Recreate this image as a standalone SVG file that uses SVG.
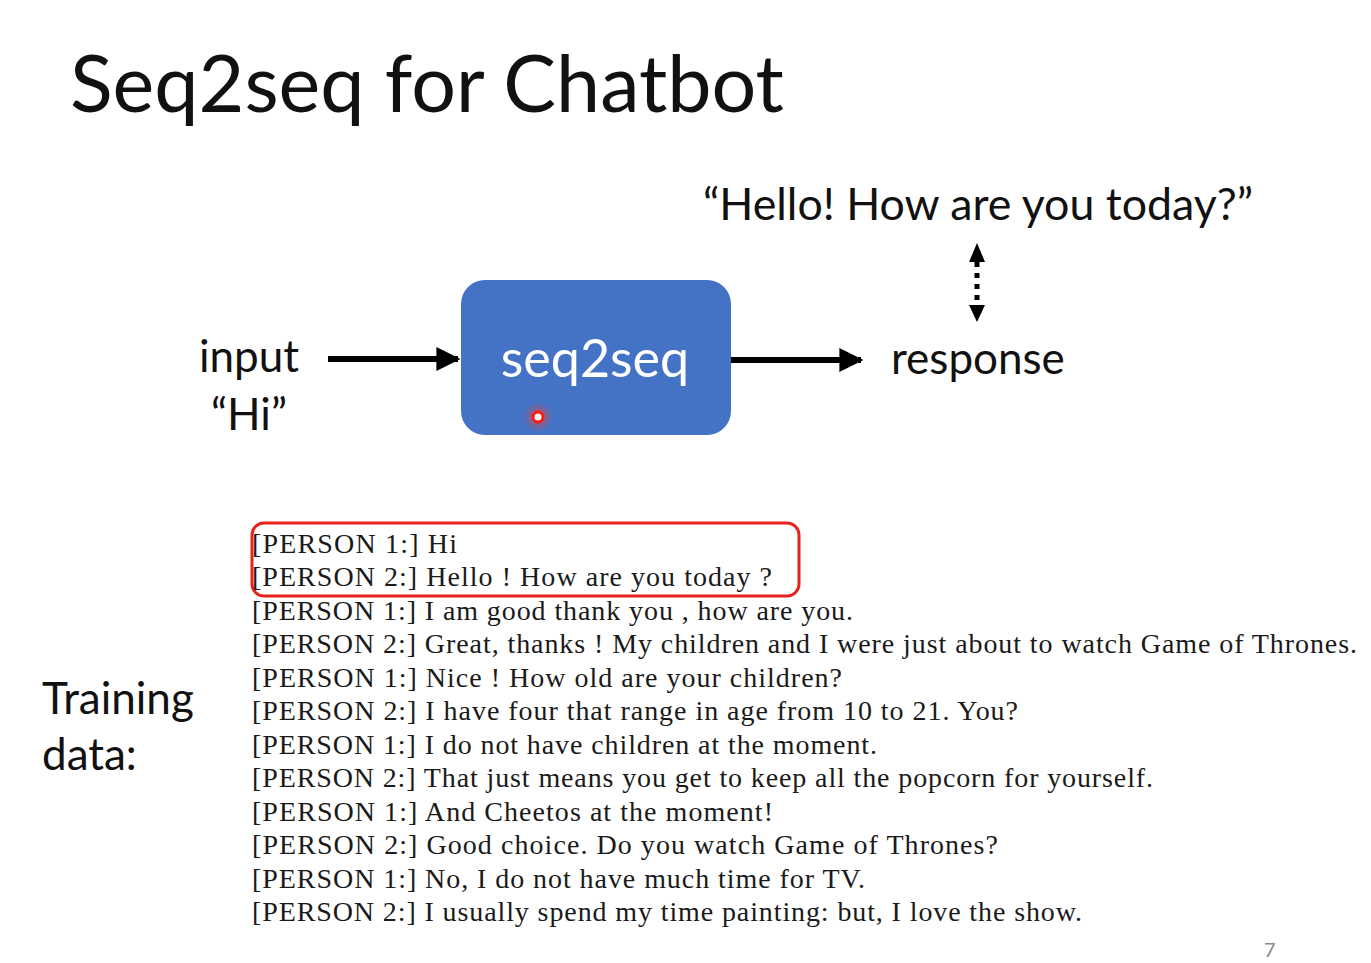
<svg xmlns="http://www.w3.org/2000/svg" width="1371" height="963" viewBox="0 0 1371 963">
  <defs>
    <style>
      .sans { font-family: "Lato", "Open Sans", "Liberation Sans", sans-serif; fill: #111; }
      .title { font-size: 79px; }
      .label { font-size: 44px; }
      .node-text { font-size: 52px; fill: #ffffff; }
      .serif { font-family: "Liberation Serif", "DejaVu Serif", serif; font-size: 28px; fill: #1a1a1a; }
      .conn { stroke: #000; stroke-width: 6; fill: none; }
      .dots { stroke: #000; stroke-width: 5; stroke-dasharray: 5 6; fill: none; }
    </style>
    <marker id="head" viewBox="0 0 10 10" refX="9" refY="5" markerWidth="4" markerHeight="4" markerUnits="strokeWidth" orient="auto">
      <path d="M0,0 L10,5 L0,10 z" fill="#000"/>
    </marker>
    <radialGradient id="glow">
      <stop offset="0" stop-color="#ff3b2f" stop-opacity="0.7"/>
      <stop offset="1" stop-color="#ff3b2f" stop-opacity="0"/>
    </radialGradient>
  </defs>

  <rect width="1371" height="963" fill="#ffffff"/>

  <text class="sans title" x="70" y="112">Seq2seq for Chatbot</text>

  <!-- connectors -->
  <g id="connectors">
    <line class="conn" x1="328" y1="359" x2="458" y2="359" marker-end="url(#head)"/>
    <line class="conn" x1="731" y1="360" x2="861" y2="360" marker-end="url(#head)"/>
    <line class="dots" x1="977" y1="262" x2="977" y2="306"/>
    <path d="M977,243 L969,262 L985,262 z" fill="#000"/>
    <path d="M977,322 L969,305 L985,305 z" fill="#000"/>
  </g>

  <g id="node-input">
    <text class="sans label" x="249" y="372" text-anchor="middle">input</text>
    <text class="sans label" x="249" y="430" text-anchor="middle">“Hi”</text>
  </g>

  <g id="node-seq2seq">
    <rect x="461" y="280" width="270" height="155" rx="24" fill="#4473c5"/>
    <text class="sans node-text" x="595" y="377" text-anchor="middle">seq2seq</text>
  </g>

  <!-- laser pointer dot -->
  <g id="pointer">
    <circle cx="538" cy="417" r="15" fill="url(#glow)"/>
    <circle cx="538" cy="417" r="5" fill="#fff" stroke="#ff1a0f" stroke-width="3"/>
  </g>

  <g id="node-response">
    <text class="sans label" x="891" y="374">response</text>
  </g>

  <g id="node-target">
    <text class="sans label" x="703" y="220" textLength="550" lengthAdjust="spacingAndGlyphs">“Hello! How are you today?”</text>
  </g>

  <g id="node-training">
    <text class="sans label" x="42" y="714">Training</text>
    <text class="sans label" x="42" y="770">data:</text>
  </g>

  <g id="dialogue">
    <rect x="252" y="523" width="547" height="73" rx="12" fill="none" stroke="#e8231c" stroke-width="3"/>
    <text class="serif" x="252" y="553" textLength="205">[PERSON 1:] Hi</text>
    <text class="serif" x="252" y="586" textLength="520">[PERSON 2:] Hello ! How are you today ?</text>
    <text class="serif" x="252" y="620" textLength="601">[PERSON 1:] I am good thank you , how are you.</text>
    <text class="serif" x="252" y="653" textLength="1105">[PERSON 2:] Great, thanks ! My children and I were just about to watch Game of Thrones.</text>
    <text class="serif" x="252" y="687" textLength="590">[PERSON 1:] Nice ! How old are your children?</text>
    <text class="serif" x="252" y="720" textLength="766">[PERSON 2:] I have four that range in age from 10 to 21. You?</text>
    <text class="serif" x="252" y="754" textLength="625">[PERSON 1:] I do not have children at the moment.</text>
    <text class="serif" x="252" y="787" textLength="901">[PERSON 2:] That just means you get to keep all the popcorn for yourself.</text>
    <text class="serif" x="252" y="821" textLength="521">[PERSON 1:] And Cheetos at the moment!</text>
    <text class="serif" x="252" y="854" textLength="746">[PERSON 2:] Good choice. Do you watch Game of Thrones?</text>
    <text class="serif" x="252" y="888" textLength="613">[PERSON 1:] No, I do not have much time for TV.</text>
    <text class="serif" x="252" y="921" textLength="830">[PERSON 2:] I usually spend my time painting: but, I love the show.</text>
  </g>

  <text x="1264" y="957" font-family="Lato, 'Liberation Sans', sans-serif" font-size="20" fill="#8a8a8a">7</text>
</svg>
